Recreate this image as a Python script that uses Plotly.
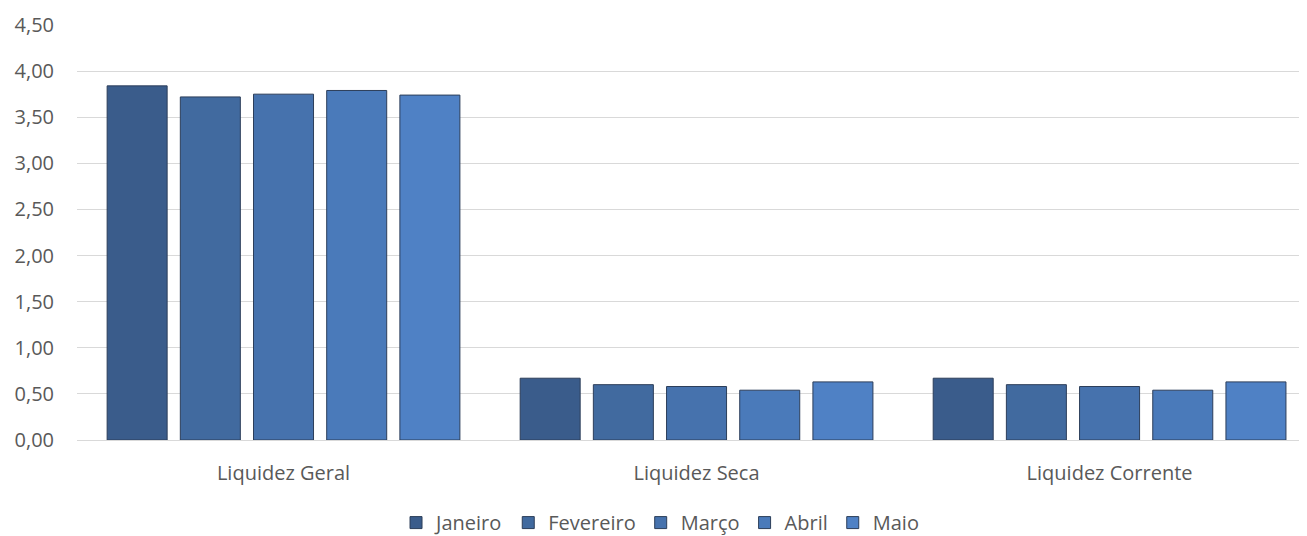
import plotly.graph_objects as go

categories = ["Liquidez Geral", "Liquidez Seca", "Liquidez Corrente"]
months = ["Janeiro", "Fevereiro", "Março", "Abril", "Maio"]
values = {
    "Janeiro":   [3.84, 0.67, 0.67],
    "Fevereiro": [3.72, 0.60, 0.60],
    "Março":     [3.75, 0.58, 0.58],
    "Abril":     [3.79, 0.54, 0.54],
    "Maio":      [3.74, 0.63, 0.63],
}
colors = ["#3a5c8b", "#416a9f", "#4672ad", "#4a7aba", "#4f81c5"]
y_ticks = [0, 0.5, 1, 1.5, 2, 2.5, 3, 3.5, 4, 4.5]

fig = go.Figure()
for m, c in zip(months, colors):
    fig.add_trace(go.Bar(
        name=m, x=categories, y=values[m],
        marker=dict(color=c, line=dict(color="#2c3e5a", width=1)),
    ))

font = dict(family="Open Sans, Liberation Sans, sans-serif", size=20, color="#595959")
fig.update_layout(
    width=1299, height=528,
    barmode="group", bargap=0.114, bargroupgap=0.18,
    paper_bgcolor="white", plot_bgcolor="white",
    margin=dict(l=69, r=0, t=17, b=96, autoexpand=False),
    separators=",.",
    font=font,
    legend=dict(orientation="h", x=0.474, xanchor="center", y=-0.152, yanchor="top",
                font=font, itemwidth=30, traceorder="normal"),
    xaxis=dict(range=[-0.5, 2.478], showgrid=False, showline=False, ticks="",
               tickfont=font, automargin=False, ticklabelstandoff=19),
    yaxis=dict(range=[0, 4.5], tickvals=y_ticks, tickformat=".2f",
               gridcolor="#d9d9d9", gridwidth=1, zeroline=True,
               zerolinecolor="#d9d9d9", zerolinewidth=1, showline=False,
               ticks="", ticklabelstandoff=22, tickfont=font, automargin=False),
)
fig.write_html("out.html")
